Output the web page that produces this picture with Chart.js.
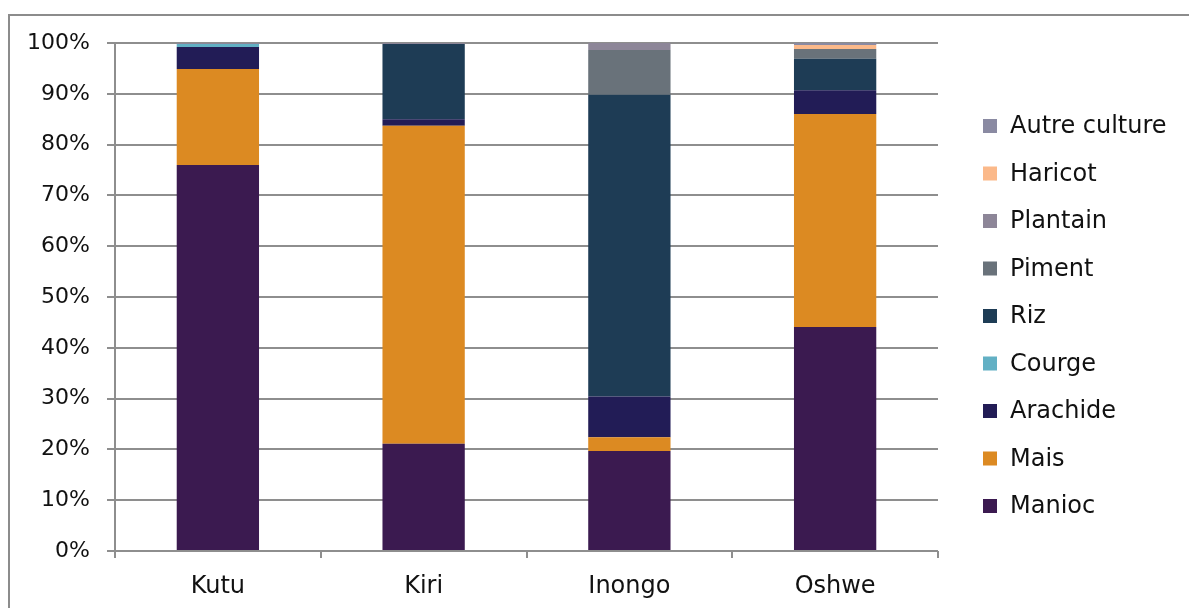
<!DOCTYPE html>
<html>
<head>
<meta charset="utf-8">
<script src="https://cdn.jsdelivr.net/npm/chart.js@4/dist/chart.umd.min.js"></script>
<style>
  html, body { margin: 0; padding: 0; background: #fff; }
  body { width: 1189px; height: 608px; position: relative; overflow: hidden; }
  #frame {
    position: absolute; left: 8px; top: 14px; width: 1300px; height: 700px;
    border-left: 2px solid #8c8c8c; border-top: 2px solid #8c8c8c;
  }
  #wrap { position: absolute; left: 0; top: 0; width: 1189px; height: 608px; }
</style>
</head>
<body>
<div id="frame"></div>
<div id="wrap"><canvas id="cultures"></canvas></div>
<script>
// territoires
const regions = ['Kutu', 'Kiri', 'Inongo', 'Oshwe'];

// part de chaque culture (%), dans l'ordre des régions
const manioc       = [76.0, 21.1, 19.7, 44.1];
const mais         = [18.9, 62.6,  2.7, 41.9];
const arachide     = [ 4.3,  1.3,  8.0,  4.7];
const courge       = [ 0.6,  0.0,  0.0,  0.0];
const riz          = [ 0.0, 14.8, 59.4,  6.2];
const piment       = [ 0.0,  0.0,  8.8,  1.9];
const plantain     = [ 0.2,  0.2,  1.4,  0.0];
const haricot      = [ 0.0,  0.0,  0.0,  0.8];
const autreCulture = [ 0.0,  0.0,  0.0,  0.4];

const yTicks = [0, 10, 20, 30, 40, 50, 60, 70, 80, 90, 100];

const FONT = 'DejaVu Sans';
const GRID = '#8e8e8e';

const series = [
  { label: 'Manioc',        data: manioc,       color: '#3b1a50' },
  { label: 'Mais',          data: mais,         color: '#dc8a22' },
  { label: 'Arachide',      data: arachide,     color: '#221c56' },
  { label: 'Courge',        data: courge,       color: '#62b0c4' },
  { label: 'Riz',           data: riz,          color: '#1e3c55' },
  { label: 'Piment',        data: piment,       color: '#69727a' },
  { label: 'Plantain',      data: plantain,     color: '#8d8698' },
  { label: 'Haricot',       data: haricot,      color: '#fbb98a' },
  { label: 'Autre culture', data: autreCulture, color: '#8a8aa2' }
];

// légende à droite, ordre inversé (dernière série en haut)
const sideLegend = {
  id: 'sideLegend',
  afterDraw(chart) {
    const ctx = chart.ctx;
    const items = chart.data.datasets.slice().reverse();
    ctx.save();
    ctx.font = '24px "' + FONT + '"';
    ctx.textBaseline = 'middle';
    items.forEach((ds, i) => {
      const y = 126 + i * 47.5;
      ctx.fillStyle = ds.backgroundColor;
      ctx.fillRect(983, y - 7, 14, 14);
      ctx.fillStyle = '#111';
      ctx.fillText(ds.label, 1010, y + 1);
    });
    ctx.restore();
  }
};

new Chart(document.getElementById('cultures'), {
  type: 'bar',
  data: {
    labels: regions,
    datasets: series.map(s => ({
      label: s.label,
      data: s.data,
      backgroundColor: s.color,
      borderWidth: 0,
      barPercentage: 0.4,
      categoryPercentage: 1.0
    }))
  },
  options: {
    responsive: true,
    maintainAspectRatio: false,
    animation: false,
    layout: { padding: { top: 43, right: 251, bottom: 0, left: 0 } },
    plugins: {
      legend: { display: false },
      tooltip: { enabled: false }
    },
    scales: {
      x: {
        stacked: true,
        afterFit(scale) { scale.height = 57; },
        grid: {
          offset: true,
          drawOnChartArea: false,
          drawTicks: true,
          tickLength: 7,
          color: GRID,
          lineWidth: 2
        },
        border: { display: false },
        ticks: {
          color: '#111',
          padding: 14,
          font: { family: FONT, size: 24 }
        }
      },
      y: {
        stacked: true,
        min: 0,
        max: 100,
        afterFit(scale) { scale.width = 115; },
        afterBuildTicks(scale) { scale.ticks = yTicks.map(v => ({ value: v })); },
        grid: {
          color: GRID,
          lineWidth: 2,
          tickLength: 8
        },
        border: { display: true, color: GRID, width: 2 },
        ticks: {
          color: '#111',
          padding: 17,
          font: { family: FONT, size: 22 },
          callback: v => v + '%'
        }
      }
    }
  },
  plugins: [sideLegend]
});
</script>
</body>
</html>
